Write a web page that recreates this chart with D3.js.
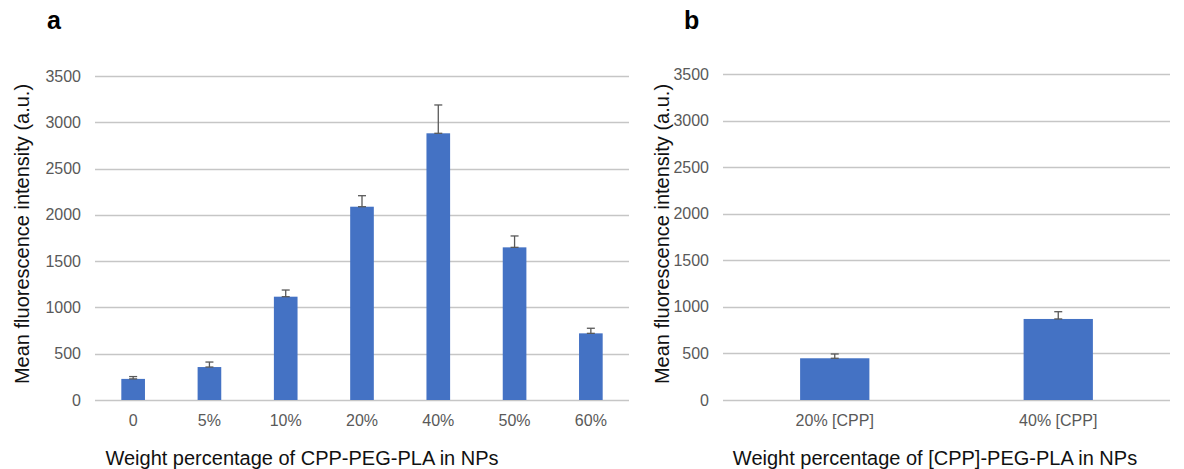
<!DOCTYPE html>
<html>
<head>
<meta charset="utf-8">
<script src="https://cdn.jsdelivr.net/npm/d3@7"></script>
<style>
  body { margin: 0; background: #fff; }
  svg text { font-family: "Liberation Sans", Arial, sans-serif; }
</style>
</head>
<body>
<svg width="1184" height="469"></svg>
<script>
// panel a
var catsA = ["0", "5%", "10%", "20%", "40%", "50%", "60%"];
var valsA = [228, 356, 1116, 2088, 2881, 1649, 720];
var errsA = [25, 54, 72, 119, 306, 123, 55];

// panel b
var catsB = ["20% [CPP]", "40% [CPP]"];
var valsB = [448, 870];
var errsB = [46, 78];

var yTicks = [0, 500, 1000, 1500, 2000, 2500, 3000, 3500];

var svg = d3.select("svg");

function panel(opt) {
  var g = svg.append("g");
  var x = d3.scaleBand().domain(opt.cats).range([opt.x0, opt.x1]).paddingInner(0.69).paddingOuter(0.345);
  var y = d3.scaleLinear().domain([0, 3500]).range([400, opt.yTop]);

  // gridlines
  g.selectAll(".grid").data(yTicks).enter().append("line")
    .attr("x1", opt.x0).attr("x2", opt.x1)
    .attr("y1", function(d){ return Math.round(y(d)) + 0.5; })
    .attr("y2", function(d){ return Math.round(y(d)) + 0.5; })
    .attr("stroke", "#c6c6c6").attr("stroke-width", 1.3);

  // y tick labels
  g.selectAll(".yt").data(yTicks).enter().append("text")
    .attr("x", opt.x0 - 14).attr("y", function(d){ return y(d); })
    .attr("dy", "0.35em").attr("text-anchor", "end")
    .attr("fill", "#595959").attr("font-size", 16)
    .text(function(d){ return d; });

  // bars
  g.selectAll(".bar").data(opt.vals).enter().append("rect")
    .attr("x", function(d, i){ return x(opt.cats[i]); })
    .attr("width", x.bandwidth())
    .attr("y", function(d){ return y(d); })
    .attr("height", function(d){ return 400 - y(d); })
    .attr("fill", "#4472c4");

  // error bars (plus side)
  opt.vals.forEach(function(v, i) {
    var cx = x(opt.cats[i]) + x.bandwidth() / 2;
    var top = y(v + opt.errs[i]);
    g.append("line").attr("x1", cx).attr("x2", cx).attr("y1", y(v)).attr("y2", top)
      .attr("stroke", "#595959").attr("stroke-width", 1.3);
    [top, y(v)].forEach(function(yy) {
      g.append("line").attr("x1", cx - 4).attr("x2", cx + 4).attr("y1", yy).attr("y2", yy)
        .attr("stroke", "#595959").attr("stroke-width", 1.3);
    });
  });

  // x tick labels
  g.selectAll(".xt").data(opt.cats).enter().append("text")
    .attr("x", function(d){ return x(d) + x.bandwidth() / 2; })
    .attr("y", 426).attr("text-anchor", "middle")
    .attr("fill", "#595959").attr("font-size", 16)
    .text(function(d){ return d; });

  // axis titles
  g.append("text")
    .attr("transform", "translate(" + opt.yTitleX + ",234) rotate(-90)")
    .attr("text-anchor", "middle").attr("font-size", 20).attr("fill", "#111")
    .text("Mean fluorescence intensity (a.u.)");
  g.append("text")
    .attr("x", opt.xTitleX).attr("y", 465).attr("text-anchor", "middle")
    .attr("font-size", 20).attr("fill", "#111")
    .text(opt.xTitle);

  // panel letter
  g.append("text").attr("x", opt.letterX).attr("y", 29)
    .attr("font-size", 25).attr("font-weight", "bold").attr("fill", "#000")
    .text(opt.letter);
}

panel({ cats: catsA, vals: valsA, errs: errsA, x0: 95, x1: 629, yTop: 76,
  yTitleX: 29, xTitleX: 302, xTitle: "Weight percentage of CPP-PEG-PLA in NPs",
  letter: "a", letterX: 47 });

panel({ cats: catsB, vals: valsB, errs: errsB, x0: 723, x1: 1170, yTop: 74,
  yTitleX: 669, xTitleX: 935, xTitle: "Weight percentage of [CPP]-PEG-PLA in NPs",
  letter: "b", letterX: 684 });
</script>
</body>
</html>
